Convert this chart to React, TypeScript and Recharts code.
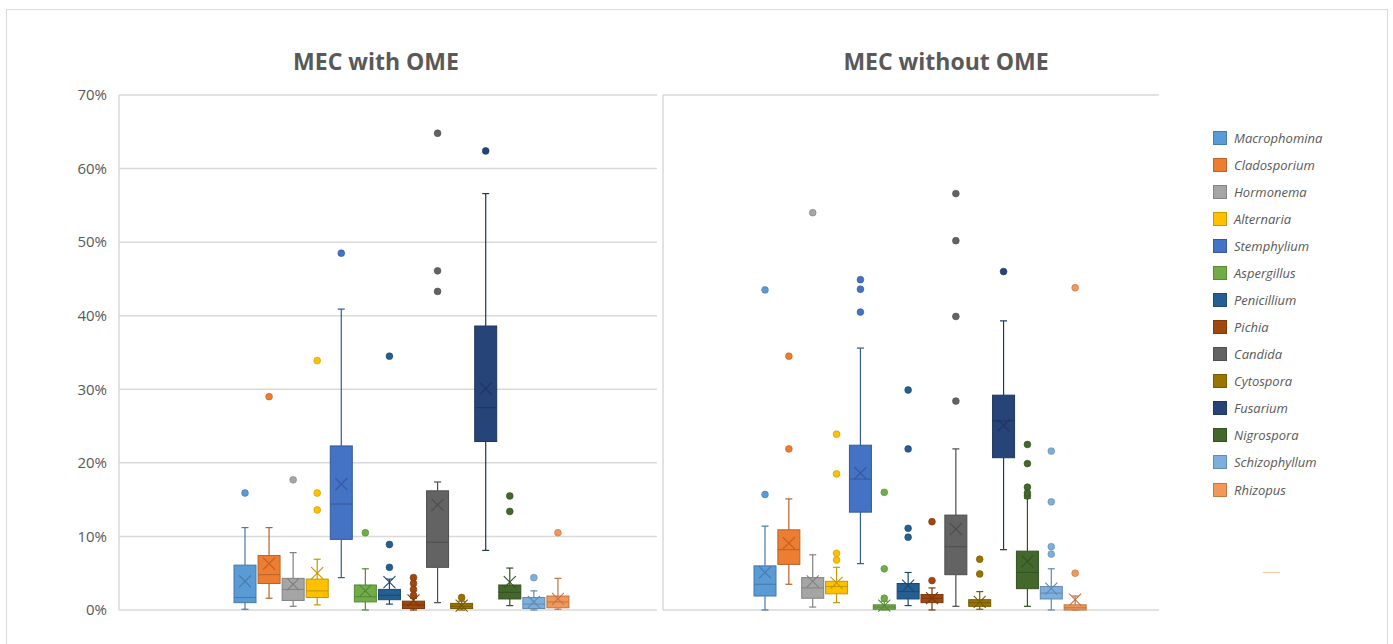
import React from 'react';
import { ComposedChart, Bar, XAxis, YAxis, CartesianGrid } from 'recharts';

const species = [
  'Macrophomina', 'Cladosporium', 'Hormonema', 'Alternaria', 'Stemphylium', 'Aspergillus', 'Penicillium',
  'Pichia', 'Candida', 'Cytospora', 'Fusarium', 'Nigrospora', 'Schizophyllum', 'Rhizopus',
];
const colors = [
  '#5B9BD5', '#ED7D31', '#A5A5A5', '#FFC000', '#4472C4', '#70AD47', '#255E91',
  '#9E480E', '#636363', '#997300', '#264478', '#43682B', '#7CAFDD', '#F1975A',
];
const yTicks = [0, 10, 20, 30, 40, 50, 60, 70];
const panelTitles = ['MEC with OME', 'MEC without OME'];

// MEC with OME (values in %)
const withLow = [0.1, 1.6, 0.5, 0.7, 4.4, 0.0, 0.8, 0.0, 1.0, 0.0, 8.1, 0.6, 0.0, 0.1];
const withQ1 = [1.0, 3.6, 1.3, 1.7, 9.6, 1.1, 1.4, 0.2, 5.8, 0.2, 22.9, 1.5, 0.2, 0.3];
const withMedian = [1.7, 4.8, 2.8, 2.6, 14.4, 1.8, 2.0, 0.7, 9.2, 0.5, 27.5, 2.4, 0.8, 1.1];
const withQ3 = [6.1, 7.4, 4.3, 4.2, 22.3, 3.4, 2.8, 1.2, 16.2, 0.9, 38.6, 3.4, 1.7, 1.9];
const withHigh = [11.2, 11.2, 7.8, 6.9, 40.9, 5.6, 4.2, 1.6, 17.4, 1.2, 56.6, 5.7, 2.6, 4.3];
const withMean = [3.9, 6.3, 3.5, 5.0, 17.1, 2.6, 3.8, 1.3, 14.3, 0.6, 30.1, 3.8, 1.1, 1.5];
const withOutliers = [
  [15.9], [29.0], [17.7], [33.9, 15.9, 13.6], [48.5], [10.5], [34.5, 8.9, 5.8],
  [4.4, 3.6, 2.8, 2.0], [64.8, 46.1, 43.3], [1.7], [62.4], [15.5, 13.4], [4.4], [10.5],
];

// MEC without OME (values in %)
const withoutLow = [0.0, 3.5, 0.4, 1.0, 6.3, 0.0, 0.6, 0.0, 0.5, 0.1, 8.2, 0.5, 0.0, 0.0];
const withoutQ1 = [1.9, 6.2, 1.6, 2.2, 13.3, 0.1, 1.5, 1.0, 4.8, 0.5, 20.7, 2.9, 1.5, 0.0];
const withoutMedian = [3.5, 8.2, 3.0, 3.2, 17.8, 0.4, 2.5, 1.6, 8.6, 1.0, 25.7, 5.1, 2.3, 0.3];
const withoutQ3 = [6.0, 10.9, 4.4, 3.9, 22.4, 0.7, 3.6, 2.1, 12.9, 1.4, 29.2, 8.0, 3.2, 0.7];
const withoutHigh = [11.4, 15.1, 7.5, 5.8, 35.6, 1.2, 5.1, 3.0, 21.9, 2.5, 39.3, 15.2, 5.6, 1.9];
const withoutMean = [5.1, 9.1, 3.9, 3.7, 18.6, 0.6, 3.3, 1.6, 11.0, 1.1, 25.1, 6.6, 2.9, 1.4];
const withoutOutliers = [
  [15.7, 43.5], [21.9, 34.5], [54.0], [6.8, 7.7, 18.5, 23.9], [40.5, 43.6, 44.9], [1.6, 5.6, 16.0],
  [9.9, 11.1, 21.9, 29.9], [4.0, 12.0], [28.4, 39.9, 50.2, 56.6], [4.9, 6.9], [46.0],
  [15.5, 15.9, 16.7, 19.9, 22.5], [7.6, 8.6, 14.7, 21.6], [5.0, 43.8],
];

function buildRows(low: number[], q1: number[], med: number[], q3: number[], high: number[], mean: number[], out: number[][]) {
  return species.map((name, i) => ({
    name, i, range: [low[i], high[i]], low: low[i], q1: q1[i], median: med[i], q3: q3[i],
    high: high[i], mean: mean[i], outliers: out[i],
  }));
}

const withRows = buildRows(withLow, withQ1, withMedian, withQ3, withHigh, withMean, withOutliers);
const withoutRows = buildRows(withoutLow, withoutQ1, withoutMedian, withoutQ3, withoutHigh, withoutMean, withoutOutliers);

function darken(hex: string, f: number) {
  const n = parseInt(hex.slice(1), 16);
  const r = Math.round(((n >> 16) & 255) * f);
  const g = Math.round(((n >> 8) & 255) * f);
  const b = Math.round((n & 255) * f);
  return `rgb(${r},${g},${b})`;
}

const BoxShape = (props: any) => {
  const { x, y, width, height, payload } = props;
  if (!payload) return null;
  const top = Math.min(y, y + height);
  const bottom = Math.max(y, y + height);
  const { low, high } = payload;
  const py = (v: number) => bottom - ((v - low) / (high - low)) * (bottom - top);
  const color = colors[payload.i];
  const dark = darken(color, 0.78);
  const cx = x + width / 2;
  const cap = 3.5;
  const yq1 = py(payload.q1);
  const yq3 = py(payload.q3);
  const ym = py(payload.median);
  const ymean = py(payload.mean);
  const xs = 6;
  return (
    <g>
      <line x1={cx} x2={cx} y1={py(high)} y2={yq3} stroke={dark} strokeWidth={1.2} />
      <line x1={cx} x2={cx} y1={yq1} y2={py(low)} stroke={dark} strokeWidth={1.2} />
      <line x1={cx - cap} x2={cx + cap} y1={py(high)} y2={py(high)} stroke={dark} strokeWidth={1.2} />
      <line x1={cx - cap} x2={cx + cap} y1={py(low)} y2={py(low)} stroke={dark} strokeWidth={1.2} />
      <rect x={x} y={yq3} width={width} height={Math.max(yq1 - yq3, 1)} fill={color} stroke={dark} strokeWidth={1} />
      <line x1={x} x2={x + width} y1={ym} y2={ym} stroke={dark} strokeWidth={1} />
      <line x1={cx - xs} x2={cx + xs} y1={ymean - xs} y2={ymean + xs} stroke={dark} strokeWidth={1.1} />
      <line x1={cx - xs} x2={cx + xs} y1={ymean + xs} y2={ymean - xs} stroke={dark} strokeWidth={1.1} />
      {payload.outliers.map((v: number, k: number) => (
        <circle key={k} cx={cx} cy={py(v)} r={3.4} fill={color} stroke={dark} strokeWidth={0.6} />
      ))}
    </g>
  );
};

const tickStyle = { fontFamily: '"Open Sans", sans-serif', fontSize: 15, fill: '#595959' };
const titleStyle: React.CSSProperties = {
  position: 'absolute', top: 46, fontFamily: '"Open Sans", sans-serif', fontWeight: 700,
  fontSize: 23, color: '#595959', whiteSpace: 'nowrap', transform: 'translateX(-50%)', lineHeight: '30px',
};

export default function App() {
  return (
    <div style={{ position: 'absolute', left: 0, top: 0, width: 1393, height: 644, background: '#fff', overflow: 'hidden' }}>
      <div style={{ position: 'absolute', left: 6, top: 9, width: 1382, height: 660, border: '1.5px solid #d9d9d9', boxSizing: 'border-box' }} />
      <div style={{ ...titleStyle, left: 376 }}>{panelTitles[0]}</div>
      <div style={{ ...titleStyle, left: 946 }}>{panelTitles[1]}</div>

      <div style={{ position: 'absolute', left: 0, top: 0 }}>
        <ComposedChart width={660} height={640} data={withRows} margin={{ top: 95, right: 3, bottom: 30, left: 59 }}>
          <CartesianGrid vertical={false} stroke="#d9d9d9" strokeWidth={1.5} />
          <XAxis dataKey="name" hide padding={{ left: 114, right: 87 }} />
          <YAxis
            domain={[0, 70]} ticks={yTicks} width={60} tickLine={false}
            axisLine={{ stroke: '#d9d9d9', strokeWidth: 1.5 }} tickMargin={6}
            tick={tickStyle} tickFormatter={(v: number) => `${v}%`}
          />
          <Bar dataKey="range" barSize={22} shape={BoxShape} isAnimationActive={false} />
        </ComposedChart>
      </div>

      <div style={{ position: 'absolute', left: 653, top: 0 }}>
        <ComposedChart width={512} height={640} data={withoutRows} margin={{ top: 95, right: 6, bottom: 30, left: 9 }}>
          <CartesianGrid vertical={false} stroke="#d9d9d9" strokeWidth={1.5} />
          <XAxis dataKey="name" hide padding={{ left: 90, right: 72 }} />
          <YAxis
            domain={[0, 70]} ticks={yTicks} width={1} tick={false} tickLine={false}
            axisLine={{ stroke: '#d9d9d9', strokeWidth: 1.5 }}
          />
          <Bar dataKey="range" barSize={22} shape={BoxShape} isAnimationActive={false} />
        </ComposedChart>
      </div>

      <div style={{ position: 'absolute', left: 1213, top: 124 }}>
        {species.map((s, i) => (
          <div key={s} style={{ display: 'flex', alignItems: 'center', height: 27.08 }}>
            <div style={{ width: 12, height: 12, background: colors[i], border: `1px solid ${darken(colors[i], 0.8)}` }} />
            <span style={{ marginLeft: 7, fontFamily: '"Open Sans", sans-serif', fontStyle: 'italic', fontSize: 13, color: '#595959' }}>{s}</span>
          </div>
        ))}
      </div>
      <div style={{ position: 'absolute', left: 1263, top: 572, width: 17, height: 1, background: '#F4C7A6' }} />
    </div>
  );
}
